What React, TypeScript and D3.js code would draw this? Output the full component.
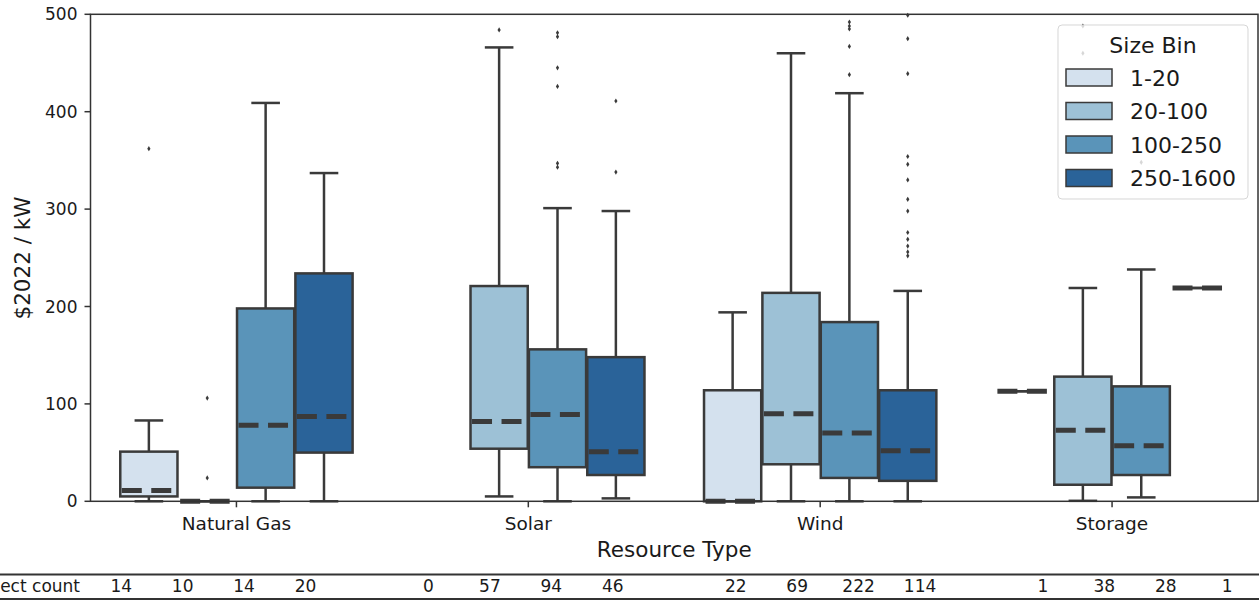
import React from "react";
import * as d3 from "d3";

const categories = ["Natural Gas", "Solar", "Wind", "Storage"];
const sizeBins = ["1-20", "20-100", "100-250", "250-1600"];
const binColors = ["#d4e1ee", "#9dc1d6", "#5a94b9", "#2a6399"];

// [whiskerLow, q1, median, q3, whiskerHigh] per size bin (null = no data)
const naturalGasStats = [[0, 5, 11, 51, 83], [0, 0, 0, 0, 0], [0, 14, 78, 198, 409], [0, 50, 87, 234, 337]];
const solarStats = [null, [5, 54, 82, 221, 466], [0, 35, 89, 156, 301], [3, 27, 51, 148, 298]];
const windStats = [[0, 0, 0, 114, 194], [0, 38, 90, 214, 460], [0, 24, 70, 184, 419], [0, 21, 52, 114, 216]];
const storageStats = [[113, 113, 113, 113, 113], [0.5, 17, 73, 128, 219], [4, 27, 57, 118, 238], [219, 219, 219, 219, 219]];

const naturalGasOutliers = [[362], [106, 24], [], []];
const solarOutliers = [[], [484], [481, 477, 445, 426, 347, 343], [411, 338]];
const windOutliers = [[], [], [492, 488, 485, 467, 438], [499, 475, 439, 354, 346, 330, 310, 298, 276, 269, 262, 256, 252]];
const storageOutliers = [[], [488, 460], [348], []];

const naturalGasCounts = [14, 10, 14, 20];
const solarCounts = [0, 57, 94, 46];
const windCounts = [22, 69, 222, 114];
const storageCounts = [1, 38, 28, 1];

const yTicks = [0, 100, 200, 300, 400, 500];

const allStats = [naturalGasStats, solarStats, windStats, storageStats];
const allOutliers = [naturalGasOutliers, solarOutliers, windOutliers, storageOutliers];
const allCounts = [naturalGasCounts, solarCounts, windCounts, storageCounts];

const W = 1259;
const H = 603;
const left = 90.5;
const right = 1258;
const top = 14.3;
const bottom = 501.3;
const font = "DejaVu Sans";
const gray = "#3a3a3a";
const textColor = "#1a1a1a";

export default function App() {
  const x = d3.scaleLinear().domain([-0.5, categories.length - 0.5]).range([left, right]);
  const y = d3.scaleLinear().domain([0, 500]).range([bottom, top]);
  const nHue = sizeBins.length;
  const hueStep = 0.8 / nHue;
  const boxW = x(hueStep * 0.98) - x(0);
  const hx = (c: number, b: number) => x(c - 0.4 + hueStep * (b + 0.5));

  const nCols = categories.length * (nHue + 1) - 1;
  const colW = (right - left) / nCols;
  const colX = (c: number, b: number) => left + colW * (c * (nHue + 1) + b + 0.5);

  const diamond = "M0,-2.6L1.6,0L0,2.6L-1.6,0Z";

  return (
    <svg width={W} height={H} style={{ position: "absolute", left: 0, top: 0 }} fontFamily={font}>
      <rect x={0} y={0} width={W} height={H} fill="#fff" />
      {/* boxes */}
      {allStats.map((stats, c) =>
        stats.map((s, b) => {
          if (!s) return null;
          const [lo, q1, med, q3, hi] = s;
          const cx = hx(c, b);
          const x0 = cx - boxW / 2;
          const x1 = cx + boxW / 2;
          return (
            <g key={`b${c}-${b}`}>
              <line x1={cx} x2={cx} y1={y(q3)} y2={y(hi)} stroke={gray} strokeWidth={2.5} />
              <line x1={cx} x2={cx} y1={y(q1)} y2={y(lo)} stroke={gray} strokeWidth={2.5} />
              <line x1={cx - boxW / 4} x2={cx + boxW / 4} y1={y(hi)} y2={y(hi)} stroke={gray} strokeWidth={2.5} />
              <line x1={cx - boxW / 4} x2={cx + boxW / 4} y1={y(lo)} y2={y(lo)} stroke={gray} strokeWidth={2.5} />
              <rect x={x0} y={y(q3)} width={x1 - x0} height={Math.max(0, y(q1) - y(q3))} fill={binColors[b]} stroke={gray} strokeWidth={2.5} />
              <line x1={x0 + 1.5} x2={x1 - 1.5} y1={y(med)} y2={y(med)} stroke={gray} strokeWidth={5} strokeDasharray="20 9.5" />
            </g>
          );
        })
      )}
      {/* outliers */}
      {allOutliers.map((outs, c) =>
        outs.map((vals, b) =>
          vals.map((v, i) => (
            <path key={`o${c}-${b}-${i}`} d={diamond} transform={`translate(${hx(c, b)},${y(v)})`} fill={gray} />
          ))
        )
      )}
      {/* spines */}
      <rect x={left} y={top} width={right - left} height={bottom - top} fill="none" stroke="#333" strokeWidth={1.5} />
      {/* y axis */}
      {yTicks.map((t) => (
        <g key={`yt${t}`}>
          <line x1={left - 6} x2={left} y1={y(t)} y2={y(t)} stroke="#333" strokeWidth={1.5} />
          <text x={left - 13} y={y(t)} dy="0.36em" textAnchor="end" fontSize={17} fill={textColor}>
            {t}
          </text>
        </g>
      ))}
      {/* x axis */}
      {categories.map((cat, c) => (
        <g key={`xt${c}`}>
          <line x1={x(c)} x2={x(c)} y1={bottom} y2={bottom + 6} stroke="#333" strokeWidth={1.5} />
          <text x={x(c)} y={530} textAnchor="middle" fontSize={18.5} fill={textColor}>
            {cat}
          </text>
        </g>
      ))}
      <text x={(left + right) / 2} y={557} textAnchor="middle" fontSize={21.5} fill={textColor}>
        Resource Type
      </text>
      <text transform={`translate(30,258) rotate(-90)`} textAnchor="middle" fontSize={21.5} fill={textColor}>
        $2022 / kW
      </text>
      {/* legend */}
      <g>
        <rect x={1058} y={25} width={190} height={174} rx={4} fill="#fff" fillOpacity={0.8} stroke="#ccc" strokeOpacity={0.8} strokeWidth={1} />
        <text x={1153} y={53} textAnchor="middle" fontSize={22} fill={textColor}>
          Size Bin
        </text>
        {sizeBins.map((bin, i) => {
          const cy = 77.5 + i * 33.5;
          return (
            <g key={`lg${i}`}>
              <rect x={1066} y={cy - 8.5} width={46} height={17} fill={binColors[i]} stroke={gray} strokeWidth={1.5} />
              <text x={1130} y={cy + 8} fontSize={22} fill={textColor}>
                {bin}
              </text>
            </g>
          );
        })}
      </g>
      {/* table */}
      <line x1={-10} x2={W} y1={574.5} y2={574.5} stroke="#333" strokeWidth={2} />
      <line x1={-10} x2={W} y1={599} y2={599} stroke="#333" strokeWidth={2} />
      <text x={80} y={592} textAnchor="end" fontSize={17} fill={textColor}>
        Project count
      </text>
      {allCounts.map((counts, c) =>
        counts.map((n, b) => (
          <text key={`tc${c}-${b}`} x={colX(c, b)} y={592} textAnchor="middle" fontSize={17} fill={textColor}>
            {n}
          </text>
        ))
      )}
    </svg>
  );
}
